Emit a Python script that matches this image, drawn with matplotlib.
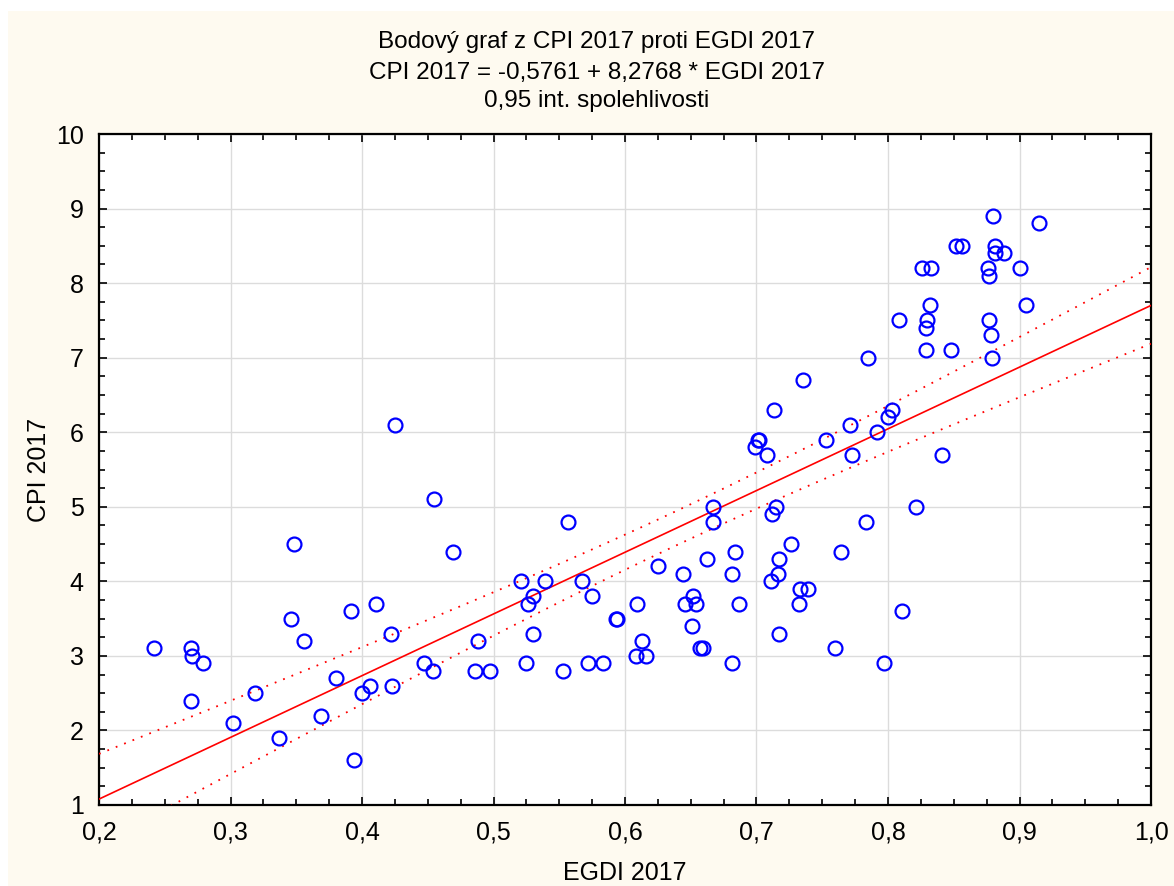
import numpy as np
import matplotlib
matplotlib.use("Agg")
import matplotlib.pyplot as plt
from matplotlib.patches import Rectangle
from matplotlib.ticker import MultipleLocator, FuncFormatter

plt.rcParams['font.family'] = ['Liberation Sans', 'DejaVu Sans']

# EGDI 2017 (x) and CPI 2017 (y)
egdi = [0.242, 0.270, 0.271, 0.279, 0.270, 0.302, 0.319, 0.337, 0.346, 0.348,
        0.356, 0.369, 0.380, 0.392, 0.394, 0.400, 0.406, 0.411, 0.422, 0.423,
        0.425, 0.447, 0.454, 0.455, 0.469, 0.486, 0.488, 0.497, 0.521, 0.526,
        0.525, 0.530, 0.530, 0.539, 0.553, 0.557, 0.567, 0.572, 0.575, 0.583,
        0.593, 0.594, 0.608, 0.609, 0.613, 0.616, 0.625, 0.644, 0.646, 0.652,
        0.654, 0.651, 0.657, 0.659, 0.662, 0.667, 0.667, 0.681, 0.684, 0.681,
        0.687, 0.699, 0.701, 0.702, 0.708, 0.713, 0.715, 0.712, 0.711, 0.716,
        0.717, 0.717, 0.726, 0.732, 0.733, 0.739, 0.760, 0.753, 0.764, 0.771,
        0.773, 0.880, 0.915, 0.852, 0.856, 0.881, 0.881, 0.888, 0.826, 0.833,
        0.876, 0.877, 0.900, 0.832, 0.905, 0.808, 0.830, 0.829, 0.877, 0.878,
        0.829, 0.848, 0.879, 0.785, 0.735, 0.803, 0.800, 0.792, 0.841, 0.783,
        0.821, 0.811, 0.797]
cpi = [3.1, 3.1, 3.0, 2.9, 2.4, 2.1, 2.5, 1.9, 3.5, 4.5,
       3.2, 2.2, 2.7, 3.6, 1.6, 2.5, 2.6, 3.7, 3.3, 2.6,
       6.1, 2.9, 2.8, 5.1, 4.4, 2.8, 3.2, 2.8, 4.0, 3.7,
       2.9, 3.8, 3.3, 4.0, 2.8, 4.8, 4.0, 2.9, 3.8, 2.9,
       3.5, 3.5, 3.0, 3.7, 3.2, 3.0, 4.2, 4.1, 3.7, 3.8,
       3.7, 3.4, 3.1, 3.1, 4.3, 5.0, 4.8, 4.1, 4.4, 2.9,
       3.7, 5.8, 5.9, 5.9, 5.7, 6.3, 5.0, 4.9, 4.0, 4.1,
       4.3, 3.3, 4.5, 3.7, 3.9, 3.9, 3.1, 5.9, 4.4, 6.1,
       5.7, 8.9, 8.8, 8.5, 8.5, 8.5, 8.4, 8.4, 8.2, 8.2,
       8.2, 8.1, 8.2, 7.7, 7.7, 7.5, 7.5, 7.4, 7.5, 7.3,
       7.1, 7.1, 7.0, 7.0, 6.7, 6.3, 6.2, 6.0, 5.7, 4.8,
       5.0, 3.6, 2.9]

intercept = -0.5761
slope = 8.2768
x_ticks = [0.2, 0.3, 0.4, 0.5, 0.6, 0.7, 0.8, 0.9, 1.0]
y_ticks = [1, 2, 3, 4, 5, 6, 7, 8, 9, 10]

x = np.array(egdi)
y = np.array(cpi)
n = len(x)

# 0.95 confidence band for the regression line
resid = y - (intercept + slope * x)
s = np.sqrt(np.sum(resid ** 2) / (n - 2))
sxx = np.sum((x - x.mean()) ** 2)
t_crit = 1.98
xs = np.linspace(0.2, 1.0, 200)
fit = intercept + slope * xs
half = t_crit * s * np.sqrt(1.0 / n + (xs - x.mean()) ** 2 / sxx)

fig = plt.figure(figsize=(11.74, 8.86), dpi=100, facecolor='white')
fig.patches.append(Rectangle((8 / 1174, 0), 1, 1 - 11 / 886, transform=fig.transFigure,
                             facecolor='#fefaf0', edgecolor='none', zorder=-10))
ax = fig.add_axes([99 / 1174, 1 - 805 / 886, (1151 - 99) / 1174, (805 - 134) / 886])
ax.set_facecolor('white')

ax.grid(True, which='major', color='#dcdcdc', linewidth=1.0)
ax.set_axisbelow(True)

ax.plot(xs, fit, color='#ff0000', linewidth=1.2, zorder=3)
ax.plot(xs, fit + half, color='#ff0000', linewidth=1.3, linestyle=(0, (1, 4)), zorder=3)
ax.plot(xs, fit - half, color='#ff0000', linewidth=1.3, linestyle=(0, (1, 4)), zorder=3)
ax.plot(x, y, 'o', markerfacecolor='none', markeredgecolor='#0000ff',
        markersize=10, markeredgewidth=1.6, zorder=4, clip_on=False)

ax.set_xlim(0.2, 1.0)
ax.set_ylim(1, 10)
ax.set_xticks(x_ticks)
ax.set_yticks(y_ticks)
ax.xaxis.set_minor_locator(MultipleLocator(0.025))
ax.yaxis.set_minor_locator(MultipleLocator(0.25))
ax.xaxis.set_major_formatter(FuncFormatter(lambda v, p: ('%.1f' % v).replace('.', ',')))
ax.yaxis.set_major_formatter(FuncFormatter(lambda v, p: '%d' % v))
ax.tick_params(which='both', direction='in', top=True, right=True, width=1.2, color='black')
ax.tick_params(which='major', length=6, labelsize=18, pad=11)
ax.tick_params(which='minor', length=4)
for sp in ax.spines.values():
    sp.set_linewidth(1.6)
    sp.set_color('black')

ax.set_xlabel('EGDI 2017', fontsize=18, labelpad=12)
ax.set_ylabel('CPI 2017', fontsize=18, labelpad=24)
ax.yaxis.set_label_coords(-48 / 1052, 0.5)

fig.text(597 / 1174, 1 - 42 / 886, 'Bodový graf z CPI 2017 proti EGDI 2017',
         ha='center', va='center', fontsize=17.5)
fig.text(597 / 1174, 1 - 73 / 886, 'CPI 2017 = -0,5761 + 8,2768 * EGDI 2017',
         ha='center', va='center', fontsize=17.5)
fig.text(597 / 1174, 1 - 101 / 886, '0,95 int. spolehlivosti',
         ha='center', va='center', fontsize=17.5)

fig.savefig('out.png', dpi=100, facecolor=fig.get_facecolor())
